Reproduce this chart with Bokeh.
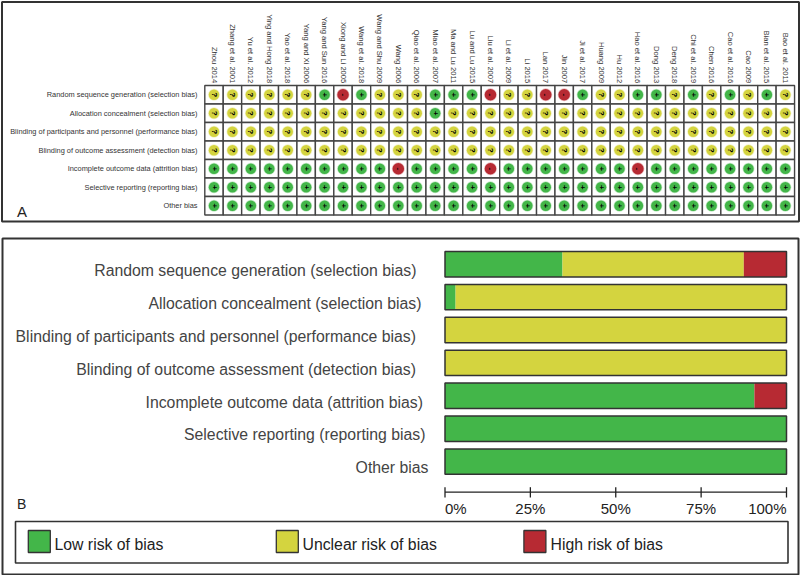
import numpy as np
from bokeh.plotting import figure
from bokeh.models import Range1d
from bokeh.core.properties import value
from bokeh.embed import file_html
from bokeh.resources import INLINE

# ---------- data ----------
studies = ["Zhou 2014", "Zhang et al. 2001", "Yu et al. 2012", "Ying and Hong 2018", "Yao et al. 2018",
           "Yang and Xi 2006", "Yang and Sun 2016", "Xiong and Li 2005", "Wang et al. 2018", "Wang and Shu 2009",
           "Wang 2006", "Qiao et al. 2006", "Miao et al. 2007", "Ma and Lu 2011", "Lu and Lu 2015",
           "Liu et al. 2007", "Li et al. 2009", "Li 2015", "Lan 2017", "Jin 2007", "Ji et al. 2017",
           "Huang 2009", "Hu 2012", "Hao et al. 2016", "Dong 2013", "Deng 2018", "Chi et al. 2019",
           "Chen 2016", "Cao et al. 2016", "Cao 2009", "Bian et al. 2015", "Bao et al. 2011"]
domains = ["Random sequence generation (selection bias)",
           "Allocation concealment (selection bias)",
           "Blinding of participants and personnel (performance bias)",
           "Blinding of outcome assessment (detection bias)",
           "Incomplete outcome data (attrition bias)",
           "Selective reporting (reporting bias)",
           "Other bias"]
judgements = ["??????+-+???+++-??--+??++?+?+?+?",
              "????????????+???????????????????",
              "????????????????????????????????",
              "????????????????????????????????",
              "++++++++++-++++-+++++++-++++++++",
              "++++++++++++++++++++++++++++++++",
              "++++++++++++++++++++++++++++++++"]
low_pct = [34.4, 3.1, 0, 0, 90.6, 100, 100]
unclear_pct = [53.1, 96.9, 100, 100, 0, 0, 0]
high_pct = [12.5, 0, 0, 0, 9.4, 0, 0]
pct_ticks = [0, 25, 50, 75, 100]
legend_labels = ["Low risk of bias", "Unclear risk of bias", "High risk of bias"]

# ---------- style ----------
GREEN, YELLOW, RED = "#43B649", "#D4D43F", "#B72A33"
DARK = "#333333"
FONT = value("Liberation Sans")
W, H = 800, 575

# pixel-based layout of the page, data go through the extra ranges
col_x0, col_w = 204.3, 18.43
row_y0, row_h = 85.0, 18.5
bar_x0, bar_x1 = 444.5, 786.0
bar_y0, bar_step = 263.7, 32.9

px = (bar_x1 - bar_x0) / 100
p = figure(width=W, height=H, output_backend="svg", toolbar_location=None,
           x_range=Range1d(0, W), y_range=Range1d(H, 0),
           x_axis_type=None, y_axis_type=None, min_border=0,
           outline_line_color=None, background_fill_color="white",
           border_fill_color="white")
p.grid.visible = False
p.extra_x_ranges = {
    "study": Range1d((0 - col_x0) / col_w - 0.5, (W - col_x0) / col_w - 0.5),
    "pct": Range1d(-bar_x0 / px, (W - bar_x0) / px),
}
p.extra_y_ranges = {
    "grid": Range1d((H - row_y0) / row_h - 0.5, (0 - row_y0) / row_h - 0.5),
    "bar": Range1d((H - bar_y0) / bar_step, (0 - bar_y0) / bar_step),
}

# panel frames and legend box
for l, t, r, b, lw in [(1.5, 1.5, 798.5, 221, 2), (2, 238, 798, 574, 2), (15, 521, 787.5, 562.5, 1.6)]:
    p.quad(left=[l], right=[r], top=[t], bottom=[b], fill_color=None, line_color=DARK, line_width=lw)

# ---------- panel A ----------
nc, nr = len(studies), len(domains)
xc, yc = np.arange(nc), np.arange(nr)
p.rect(x=[i for i in xc for _ in yc], y=[j for _ in xc for j in yc], width=1, height=1,
       x_range_name="study", y_range_name="grid", fill_color="white", line_color="#444444", line_width=1.4)
colors = {"+": GREEN, "?": YELLOW, "-": RED}
sizes = {"+": 10.5, "?": 10.5, "-": 11.5}
xs, ys, syms = [], [], []
for j, row in enumerate(judgements):
    for i, s in enumerate(row):
        xs.append(i); ys.append(j); syms.append(s)
cols = [colors[s] for s in syms]
p.scatter(x=xs, y=ys, size=[sizes[s] for s in syms], marker="circle", x_range_name="study", y_range_name="grid",
          fill_color=cols, line_color=cols, line_alpha=0.3, line_width=1.5)
p.text(x=xs, y=ys, text=syms, x_range_name="study", y_range_name="grid", angle=-np.pi / 2,
       text_align="center", text_baseline="middle", text_font=FONT, text_font_style="bold",
       text_font_size="8px", text_color="#000000")
p.text(x=list(xc), y=[-0.62] * nc, text=studies, x_range_name="study", y_range_name="grid", angle=-np.pi / 2,
       text_align="right", text_baseline="middle", text_font=FONT, text_font_size="7.6px", text_color=DARK)
p.text(x=[197] * nr, y=list(yc), y_range_name="grid", text=domains, text_align="right", text_baseline="middle",
       text_font=FONT, text_font_size="7.4px", text_color=DARK)
p.text(x=[16.5], y=[210.5], text=["A"], text_font=FONT, text_font_size="15px", text_color="#222222",
       text_baseline="middle")

# ---------- panel B ----------
rows = list(range(nr))
low = np.array(low_pct); unc = np.array(unclear_pct); high = np.array(high_pct)
bh = 25.4 / bar_step
p.hbar(y=rows, left=0, right=low, height=bh, x_range_name="pct", y_range_name="bar", fill_color=GREEN, line_color=None)
p.hbar(y=rows, left=low, right=low + unc, height=bh, x_range_name="pct", y_range_name="bar", fill_color=YELLOW, line_color=None)
p.hbar(y=rows, left=low + unc, right=low + unc + high, height=bh, x_range_name="pct", y_range_name="bar", fill_color=RED, line_color=None)
p.hbar(y=rows, left=0, right=100, height=bh, x_range_name="pct", y_range_name="bar", fill_color=None, line_color=DARK, line_width=1.5)
label_right = [416, 421, 415.5, 415.5, 422.5, 425, 428]
p.text(x=label_right, y=[r + 0.19 for r in rows], y_range_name="bar", text=domains, text_align="right",
       text_baseline="middle", text_font=FONT, text_font_size="15.8px", text_color="#444444")
p.text(x=[16.5], y=[503], text=["B"], text_font=FONT, text_font_size="14px", text_color="#222222",
       text_baseline="middle")

# percent axis
p.line(x=[pct_ticks[0], pct_ticks[-1]], y=[491.7, 491.7], x_range_name="pct", line_color="#222222", line_width=1.3)
p.segment(x0=pct_ticks, x1=pct_ticks, y0=[486.7] * 5, y1=[497] * 5, x_range_name="pct", line_color="#222222", line_width=1.3)
aligns = ["left", "center", "center", "center", "right"]
p.text(x=pct_ticks, y=[508] * 5, text=[f"{t}%" for t in pct_ticks], x_range_name="pct", text_align=aligns,
       text_baseline="middle", text_font=FONT, text_font_size="15px", text_color="#222222")

# legend
sw_x, txt_x = [27.8, 275.8, 523.4], [54, 302, 550]
p.quad(left=sw_x, right=[x + 22 for x in sw_x], top=[530] * 3, bottom=[552] * 3,
       fill_color=[GREEN, YELLOW, RED], line_color=DARK, line_width=1.3)
p.text(x=txt_x, y=[543.5] * 3, text=legend_labels, text_baseline="middle", text_font=FONT,
       text_font_size="15.8px", text_color="#222222")

open("out.html", "w").write(file_html(p, INLINE))
